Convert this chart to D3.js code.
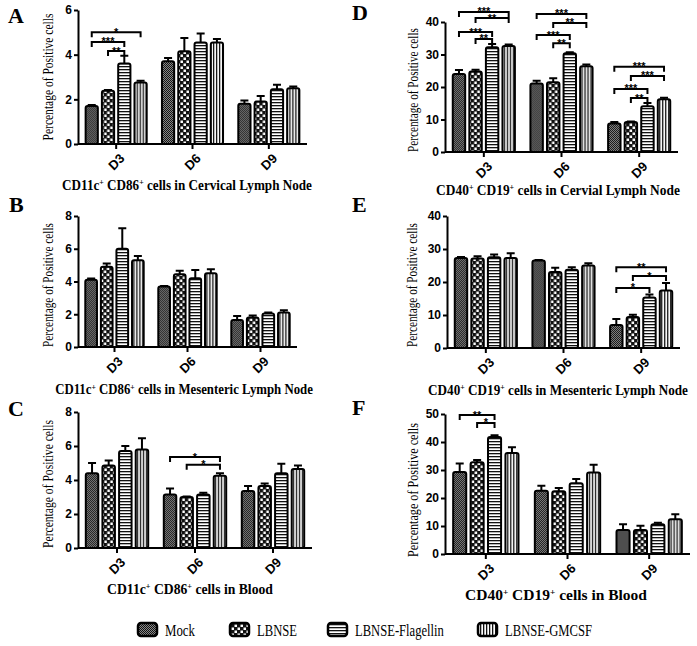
<!DOCTYPE html>
<html>
<head>
<meta charset="utf-8">
<script src="https://cdn.jsdelivr.net/npm/d3@7"></script>
<style>
body { margin: 0; background: #fff; }
</style>
</head>
<body>
<script>
// groups and days
var days = ["D3", "D6", "D9"];
var groups = ["Mock", "LBNSE", "LBNSE-Flagellin", "LBNSE-GMCSF"];

// means: one row per day, one column per group
var cervicalDC = [[1.7, 2.38, 3.6, 2.75], [3.7, 4.15, 4.55, 4.55], [1.8, 1.9, 2.45, 2.5]];
var cervicalDCErr = [[0.05, 0.04, 0.35, 0.08], [0.15, 0.6, 0.4, 0.15], [0.15, 0.25, 0.2, 0.08]];
var mesentericDC = [[4.1, 4.9, 6.0, 5.3], [3.7, 4.45, 4.2, 4.5], [1.65, 1.8, 2.05, 2.1]];
var mesentericDCErr = [[0.08, 0.2, 1.25, 0.25], [0.03, 0.2, 0.5, 0.25], [0.25, 0.12, 0.05, 0.15]];
var bloodDC = [[4.4, 4.85, 5.7, 5.8], [3.15, 3.0, 3.15, 4.25], [3.35, 3.65, 4.4, 4.65]];
var bloodDCErr = [[0.6, 0.3, 0.3, 0.65], [0.35, 0.03, 0.1, 0.15], [0.3, 0.15, 0.55, 0.2]];
var cervicalB = [[24.0, 24.8, 32.2, 32.6], [21.1, 21.5, 30.4, 26.4], [8.8, 9.2, 14.1, 16.2]];
var cervicalBErr = [[1.2, 0.5, 1.0, 0.5], [0.8, 1.2, 0.3, 0.5], [0.4, 0.2, 1.0, 0.5]];
var mesentericB = [[27.3, 27.1, 27.5, 27.3], [26.5, 23.0, 23.7, 25.0], [7.0, 9.4, 15.3, 17.4]];
var mesentericBErr = [[0.3, 0.7, 0.8, 1.4], [0.2, 1.3, 0.8, 0.7], [1.8, 0.7, 0.9, 2.3]];
var bloodB = [[29.3, 32.8, 41.8, 36.1], [22.6, 22.4, 25.3, 29.1], [8.6, 8.6, 10.6, 12.4]];
var bloodBErr = [[3.0, 0.8, 0.6, 2.0], [1.8, 1.2, 1.5, 2.8], [2.0, 1.5, 0.6, 1.8]];

// significance: [day index, from group, to group, stars, bracket height (value)]
var sigA = [[0, 0, 3, "*", 5.0], [0, 0, 2, "***", 4.57], [0, 1, 2, "**", 4.16]];
var sigB = [];
var sigC = [[1, 0, 3, "*", 5.35], [1, 1, 3, "*", 4.9]];
var sigD = [[0, 0, 3, "***", 43.1], [0, 1, 3, "**", 41.2], [0, 0, 2, "***", 36.9], [0, 1, 2, "**", 34.8],
            [1, 0, 3, "***", 42.5], [1, 1, 3, "**", 39.7], [1, 0, 2, "***", 36.0], [1, 1, 2, "**", 33.5],
            [2, 0, 3, "***", 26.2], [2, 1, 3, "***", 23.4], [2, 0, 2, "***", 19.4], [2, 1, 2, "**", 16.6]];
var sigE = [[2, 0, 3, "**", 24.5], [2, 1, 3, "*", 21.8], [2, 0, 2, "*", 18.2]];
var sigF = [[0, 0, 2, "**", 49.6], [0, 1, 2, "*", 46.8]];

var svg = d3.select("body").append("svg")
  .attr("width", 697)
  .attr("height", 646)
  .style("font-family", "'Liberation Serif', serif");

svg.append("rect").attr("width", 697).attr("height", 646).attr("fill", "#fff");

// squeeze a text horizontally so that it is w pixels long (the source figure is condensed)
function fitText(sel, pre, w) {
  var n = sel.node().getComputedTextLength();
  sel.attr("transform", pre + " scale(" + (w / n) + ",1)");
}

// fill patterns for the four groups
var defs = svg.append("defs");
var p0 = defs.append("pattern").attr("id", "pat0").attr("patternUnits", "userSpaceOnUse").attr("width", 2).attr("height", 2);
p0.append("rect").attr("width", 2).attr("height", 2).attr("fill", "#8a8a8a");
p0.append("rect").attr("width", 1).attr("height", 1).attr("fill", "#111");
p0.append("rect").attr("x", 1).attr("y", 1).attr("width", 1).attr("height", 1).attr("fill", "#111");

var p1 = defs.append("pattern").attr("id", "pat1").attr("patternUnits", "userSpaceOnUse").attr("width", 6).attr("height", 6);
p1.append("rect").attr("width", 6).attr("height", 6).attr("fill", "#111");
p1.append("rect").attr("x", 0.5).attr("y", 0.5).attr("width", 2.5).attr("height", 2.5).attr("fill", "#fff");
p1.append("rect").attr("x", 3.5).attr("y", 3.5).attr("width", 2.5).attr("height", 2.5).attr("fill", "#fff");

var p2 = defs.append("pattern").attr("id", "pat2").attr("patternUnits", "userSpaceOnUse").attr("width", 3).attr("height", 3);
p2.append("rect").attr("width", 3).attr("height", 3).attr("fill", "#fff");
p2.append("rect").attr("width", 3).attr("height", 1.3).attr("fill", "#111");

var p3 = defs.append("pattern").attr("id", "pat3").attr("patternUnits", "userSpaceOnUse").attr("width", 3).attr("height", 3);
p3.append("rect").attr("width", 3).attr("height", 3).attr("fill", "#fff");
p3.append("rect").attr("width", 1.3).attr("height", 3).attr("fill", "#111");

// panel layout
var panels = [
  {letter: "A", lx: 8, ly: 23, x0: 78, x1: 307, top: 10, bottom: 144, max: 6, step: 2,
   values: cervicalDC, errors: cervicalDCErr, sig: sigA,
   title: ["CD11c", "+", " CD86", "+", " cells in Cervical Lymph Node"], tx: 187, ty: 190, tw: 250,
   labx: 48, laby: 77, labw: 127},
  {letter: "B", lx: 9, ly: 212, x0: 78, x1: 297, top: 216, bottom: 347, max: 8, step: 2,
   values: mesentericDC, errors: mesentericDCErr, sig: sigB,
   title: ["CD11c", "+", " CD86", "+", " cells in Mesenteric Lymph Node"], tx: 184, ty: 394, tw: 258,
   labx: 48, laby: 285, labw: 124},
  {letter: "C", lx: 8, ly: 416, x0: 78, x1: 312, top: 412, bottom: 548, max: 8, step: 2,
   values: bloodDC, errors: bloodDCErr, sig: sigC,
   title: ["CD11c", "+", " CD86", "+", " cells in Blood"], tx: 190, ty: 594, tw: 166,
   labx: 48, laby: 484, labw: 128},
  {letter: "D", lx: 352, ly: 20, x0: 445, x1: 678, top: 22, bottom: 152, max: 40, step: 10,
   values: cervicalB, errors: cervicalBErr, sig: sigD,
   title: ["CD40", "+", " CD19", "+", " cells in Cervial Lymph Node"], tx: 558, ty: 195, tw: 244,
   labx: 413, laby: 90, labw: 124},
  {letter: "E", lx: 352, ly: 212, x0: 447, x1: 680, top: 216, bottom: 348, max: 40, step: 10,
   values: mesentericB, errors: mesentericBErr, sig: sigE,
   title: ["CD40", "+", " CD19", "+", " cells in Mesenteric Lymph Node"], tx: 558, ty: 395, tw: 260,
   labx: 412, laby: 285, labw: 124},
  {letter: "F", lx: 352, ly: 415, x0: 445, x1: 690, top: 414, bottom: 554, max: 50, step: 10,
   values: bloodB, errors: bloodBErr, sig: sigF,
   title: ["CD40", "+", " CD19", "+", " cells in Blood"], tx: 556, ty: 600, tw: 182,
   labx: 413, laby: 490, labw: 134}
];

panels.forEach(function(p) {
  var g = svg.append("g");

  var x = d3.scaleBand().domain(days).range([p.x0, p.x1]).paddingInner(0.2).paddingOuter(0.1);
  var xs = d3.scaleBand().domain(d3.range(groups.length)).range([0, x.bandwidth()]).paddingInner(0.25);
  var y = d3.scaleLinear().domain([0, p.max]).range([p.bottom, p.top]);

  // panel letter
  g.append("text")
    .attr("x", p.lx).attr("y", p.ly)
    .attr("font-size", 22).attr("font-weight", "bold")
    .text(p.letter);

  // y axis label
  var lab = g.append("text")
    .attr("text-anchor", "middle")
    .attr("dy", "0.35em")
    .attr("font-size", 15)
    .text("Percentage of Positive cells");
  fitText(lab, "translate(" + p.labx + "," + p.laby + ") rotate(-90)", p.labw);

  // bars
  var dayG = g.selectAll(".day")
    .data(p.values)
    .enter().append("g")
    .attr("transform", function(d, i) { return "translate(" + x(days[i]) + ",0)"; });

  dayG.selectAll(".err")
    .data(function(d, i) { return d.map(function(v, j) { return {v: v, e: p.errors[i][j], j: j}; }); })
    .enter().append("path")
    .attr("d", function(d) {
      var cx = xs(d.j) + xs.bandwidth() / 2;
      var yt = y(d.v + d.e);
      return "M" + cx + "," + y(d.v) + "V" + yt + "M" + (cx - 4) + "," + yt + "H" + (cx + 4);
    })
    .attr("stroke", "#000").attr("stroke-width", 2).attr("fill", "none");

  dayG.selectAll(".bar")
    .data(function(d) { return d; })
    .enter().append("rect")
    .attr("x", function(d, j) { return xs(j); })
    .attr("y", function(d) { return y(d); })
    .attr("width", xs.bandwidth())
    .attr("height", function(d) { return y(0) - y(d); })
    .attr("rx", 2)
    .attr("fill", function(d, j) { return "url(#pat" + j + ")"; })
    .attr("stroke", "#000").attr("stroke-width", 2);

  // significance brackets
  p.sig.forEach(function(s) {
    var xa = x(days[s[0]]) + xs(s[1]) + xs.bandwidth() / 2;
    var xb = x(days[s[0]]) + xs(s[2]) + xs.bandwidth() / 2;
    var yy = y(s[4]);
    g.append("path")
      .attr("d", "M" + xa + "," + (yy + 5) + "V" + yy + "H" + xb + "V" + (yy + 5))
      .attr("stroke", "#000").attr("stroke-width", 2).attr("fill", "none");
    g.append("text")
      .attr("x", (xa + xb) / 2).attr("y", yy + 3.5)
      .attr("text-anchor", "middle")
      .attr("font-family", "'Liberation Sans', sans-serif")
      .attr("font-weight", "bold").attr("font-size", 11)
      .text(s[3]);
  });

  // axes
  var yAxis = d3.axisLeft(y)
    .tickValues(d3.range(0, p.max + 0.001, p.step))
    .tickFormat(d3.format("d"))
    .tickSize(4).tickSizeOuter(0);
  var ya = g.append("g").attr("transform", "translate(" + p.x0 + ",0)").call(yAxis);
  ya.select(".domain").attr("stroke-width", 2);
  ya.selectAll(".tick line").attr("stroke-width", 2);
  ya.selectAll("text")
    .attr("font-family", "'Liberation Sans', sans-serif")
    .attr("font-weight", "bold").attr("font-size", 12).attr("x", -6);

  var xAxis = d3.axisBottom(x).tickSize(5).tickSizeOuter(0);
  var xa = g.append("g").attr("transform", "translate(0," + p.bottom + ")").call(xAxis);
  xa.select(".domain").attr("stroke-width", 2).attr("d", "M" + p.x0 + ",0H" + p.x1);
  xa.selectAll(".tick line").attr("stroke-width", 2);
  xa.selectAll("text")
    .attr("font-family", "'Liberation Sans', sans-serif")
    .attr("font-weight", "bold").attr("font-size", 13)
    .attr("text-anchor", "end")
    .attr("x", 0).attr("y", 0).attr("dy", "0.35em")
    .attr("transform", "translate(6,12) rotate(-45)");

  // title with superscripts
  var t = g.append("text")
    .attr("text-anchor", "middle")
    .attr("font-weight", "bold").attr("font-size", 15);
  p.title.forEach(function(part) {
    if (part === "+") {
      t.append("tspan").attr("font-size", 9).attr("baseline-shift", "super").text("+");
    } else {
      t.append("tspan").text(part);
    }
  });
  fitText(t, "translate(" + p.tx + "," + p.ty + ")", p.tw);
});

// legend
var legendX = [138, 230, 328, 478];
var legendW = [30, 40, 89, 87];
var legend = svg.append("g");
legend.selectAll("rect")
  .data(groups)
  .enter().append("rect")
  .attr("x", function(d, i) { return legendX[i]; })
  .attr("y", 623)
  .attr("width", 19).attr("height", 13).attr("rx", 3)
  .attr("fill", function(d, i) { return "url(#pat" + i + ")"; })
  .attr("stroke", "#000").attr("stroke-width", 2.5);
legend.selectAll("text")
  .data(groups)
  .enter().append("text")
  .attr("font-size", 16)
  .text(function(d) { return d; })
  .each(function(d, i) {
    fitText(d3.select(this), "translate(" + (legendX[i] + 27) + ",636)", legendW[i]);
  });
</script>
</body>
</html>
